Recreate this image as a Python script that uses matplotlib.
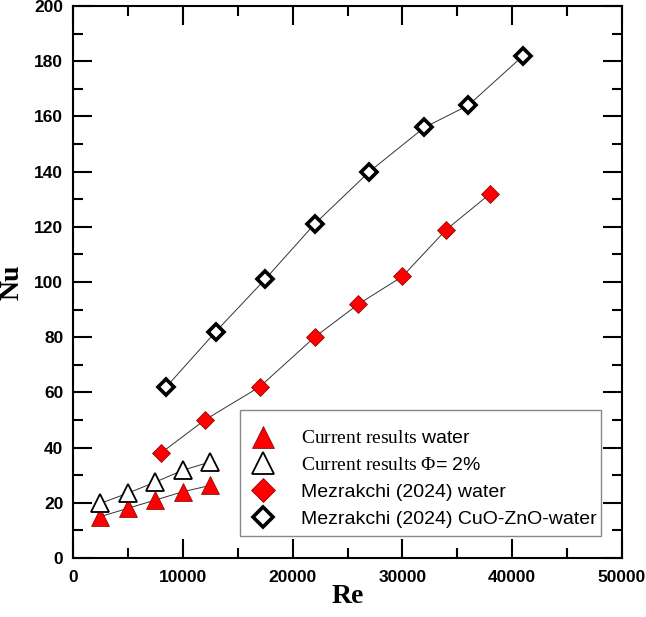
import matplotlib
matplotlib.use('Agg')
import matplotlib.pyplot as plt
from matplotlib.ticker import MultipleLocator
from matplotlib.patches import Rectangle

# ---- data ----
re_water = [2500, 5000, 7500, 10000, 12500]
nu_water = [15.0, 18.0, 21.0, 24.0, 26.3]

re_phi2 = [2500, 5000, 7500, 10000, 12500]
nu_phi2 = [19.8, 23.5, 27.5, 31.8, 34.8]

re_mez_water = [8000, 12000, 17000, 22000, 26000, 30000, 34000, 38000]
nu_mez_water = [38, 50, 62, 80, 92, 102, 119, 132]

re_mez_nano = [8500, 13000, 17500, 22000, 27000, 32000, 36000, 41000]
nu_mez_nano = [62, 82, 101, 121, 140, 156, 164, 182]

labels = [
    r"$\mathrm{Current\ results}$ water",
    r"$\mathrm{Current\ results\ \Phi}$= 2%",
    "Mezrakchi (2024) water",
    "Mezrakchi (2024) CuO-ZnO-water",
]

plt.rcParams['font.family'] = ['Liberation Sans', 'DejaVu Sans']
plt.rcParams['mathtext.fontset'] = 'custom'
plt.rcParams['mathtext.rm'] = 'Liberation Serif'
plt.rcParams['mathtext.it'] = 'Liberation Serif:italic'
plt.rcParams['mathtext.bf'] = 'Liberation Serif:bold'

fig = plt.figure(figsize=(6.46, 6.17), dpi=100)
ax = fig.add_axes([73/646, 1 - 558/617, 549/646, 552/617])

line_kw = dict(color='#333333', lw=0.7, zorder=2)
ax.plot(re_water, nu_water, **line_kw)
ax.plot(re_phi2, nu_phi2, **line_kw)
ax.plot(re_mez_water, nu_mez_water, **line_kw)
ax.plot(re_mez_nano, nu_mez_nano, **line_kw)

h1, = ax.plot(re_water, nu_water, ls='none', marker='^', ms=12.5,
              mfc='#ff0000', mec='#7a0000', mew=0.5, zorder=3)
h2, = ax.plot(re_phi2, nu_phi2, ls='none', marker='^', ms=12.5,
              mfc='white', mec='black', mew=1.3, zorder=3)
h3, = ax.plot(re_mez_water, nu_mez_water, ls='none', marker='D', ms=9.2,
              mfc='#ff0000', mec='#7a0000', mew=0.5, zorder=3)
h4, = ax.plot(re_mez_nano, nu_mez_nano, ls='none', marker='D', ms=8.0,
              mfc='white', mec='black', mew=2.6, zorder=3)

ax.set_xlim(0, 50000)
ax.set_ylim(0, 200)
ax.xaxis.set_major_locator(MultipleLocator(10000))
ax.xaxis.set_minor_locator(MultipleLocator(5000))
ax.yaxis.set_major_locator(MultipleLocator(20))
ax.yaxis.set_minor_locator(MultipleLocator(10))

for s in ax.spines.values():
    s.set_linewidth(1.5)
ax.tick_params(which='both', direction='in', top=True, right=True, width=1.5)
ax.tick_params(which='major', length=13.5)
ax.tick_params(which='minor', length=7)
ax.tick_params(axis='x', which='major', pad=9)
ax.tick_params(axis='y', which='major', pad=7)
for lab in ax.get_xticklabels() + ax.get_yticklabels():
    lab.set_fontsize(12.5)
    lab.set_fontweight('bold')

ax.set_xlabel('Re', fontsize=20, fontweight='bold', family='Liberation Serif', labelpad=-1)
ax.set_ylabel('Nu', fontsize=20, fontweight='bold', family='Liberation Serif', labelpad=7)

# legend frame (drawn separately to match the reference box)
frame = Rectangle((0.3042, 0.0399), 0.6576, 0.2283, transform=ax.transAxes,
                  facecolor='white', edgecolor='#888888', lw=1.0, zorder=4)
ax.add_patch(frame)

leg = ax.legend([h1, h2, h3, h4], labels, loc='lower left',
                bbox_to_anchor=(0.304, 0.040), borderaxespad=0,
                fontsize=14, markerscale=1.3, frameon=False,
                borderpad=0.4, labelspacing=0.48, handlelength=1.6,
                handletextpad=1.15)
leg.set_zorder(5)

fig.savefig('out.png', dpi=100)
